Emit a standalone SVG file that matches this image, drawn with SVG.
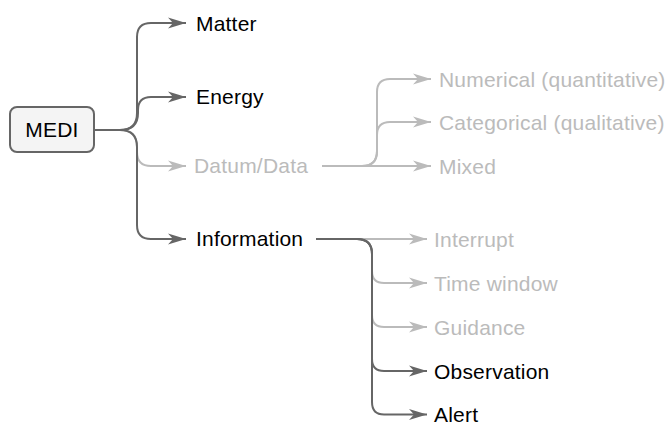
<svg xmlns="http://www.w3.org/2000/svg" width="670" height="426" viewBox="0 0 670 426">
  <defs>
    <marker id="arrow-dark" markerWidth="20" markerHeight="14" refX="18" refY="7" orient="auto" markerUnits="userSpaceOnUse">
      <path d="M0,1.5 L18,7 L0,12.5 L5,7 z" fill="#666"/>
    </marker>
    <marker id="arrow-light" markerWidth="20" markerHeight="14" refX="18" refY="7" orient="auto" markerUnits="userSpaceOnUse">
      <path d="M0,1.5 L18,7 L0,12.5 L5,7 z" fill="#bbb"/>
    </marker>
    <style>
      .lbl { font-family: "Liberation Sans", Arial, sans-serif; font-size: 21px; letter-spacing: 0.2px; }
      .dark { fill: #000; }
      .light { fill: #bbb; }
      .edge { fill: none; stroke-width: 2; stroke-linejoin: round; }
      .edge.dk { stroke: #666; marker-end: url(#arrow-dark); }
      .edge.lt { stroke: #bbb; marker-end: url(#arrow-light); }
      .root { fill: #f4f4f4; stroke: #666; stroke-width: 2; }
    </style>
  </defs>

  <!-- connectors: faded branches first, active branches on top -->
  <g id="connectors">
    <!-- MEDI -> children -->
    <path class="edge lt" d="M94,130 H120 Q137,130 137,147 V152 Q137,166 151,166 H186"/>
    <path class="edge dk" d="M94,130 H120 Q137,130 137,113 V37 Q137,23 151,23 H186"/>
    <path class="edge dk" d="M94,130 H120 Q138,130 138,113 V110 Q138,97 151,97 H186"/>
    <path class="edge dk" d="M94,130 H120 Q137,130 137,147 V225 Q137,239 151,239 H186"/>
    <!-- Datum/Data -> children -->
    <path class="edge lt" d="M322,166 H362 Q377,166 377,151 V92 Q377,79 390,79 H431"/>
    <path class="edge lt" d="M322,166 H362 Q377,166 377,151 V135 Q377,122 390,122 H431"/>
    <path class="edge lt" d="M322,166 H431"/>
    <!-- Information -> children -->
    <path class="edge lt" d="M316,239 H427"/>
    <path class="edge lt" d="M316,239 H357 Q372,239 372,254 V271 Q372,283 384,283 H427"/>
    <path class="edge lt" d="M316,239 H357 Q372,239 372,254 V315 Q372,327 384,327 H427"/>
    <path class="edge dk" d="M316,239 H357 Q372,239 372,254 V359 Q372,371 384,371 H427"/>
    <path class="edge dk" d="M316,239 H357 Q372,239 372,254 V402 Q372,414.5 384,414.5 H427"/>
  </g>

  <g id="medi">
    <rect class="root" x="10" y="107" width="84" height="45" rx="7"/>
    <text class="lbl dark" x="52" y="137.3" text-anchor="middle">MEDI</text>
  </g>

  <g id="matter"><text class="lbl dark" x="196" y="30.5">Matter</text></g>
  <g id="energy"><text class="lbl dark" x="196" y="104.3">Energy</text></g>
  <g id="datum-data"><text class="lbl light" x="194" y="173">Datum/Data</text></g>
  <g id="information"><text class="lbl dark" x="196" y="246">Information</text></g>

  <g id="numerical"><text class="lbl light" x="439" y="86.5">Numerical (quantitative)</text></g>
  <g id="categorical"><text class="lbl light" x="439" y="129.5">Categorical (qualitative)</text></g>
  <g id="mixed"><text class="lbl light" x="439" y="173.5">Mixed</text></g>

  <g id="interrupt"><text class="lbl light" x="434" y="246.5">Interrupt</text></g>
  <g id="time-window"><text class="lbl light" x="434" y="290.5">Time window</text></g>
  <g id="guidance"><text class="lbl light" x="434" y="334.5">Guidance</text></g>
  <g id="observation"><text class="lbl dark" x="434" y="378.5">Observation</text></g>
  <g id="alert"><text class="lbl dark" x="434" y="421.7">Alert</text></g>
</svg>
